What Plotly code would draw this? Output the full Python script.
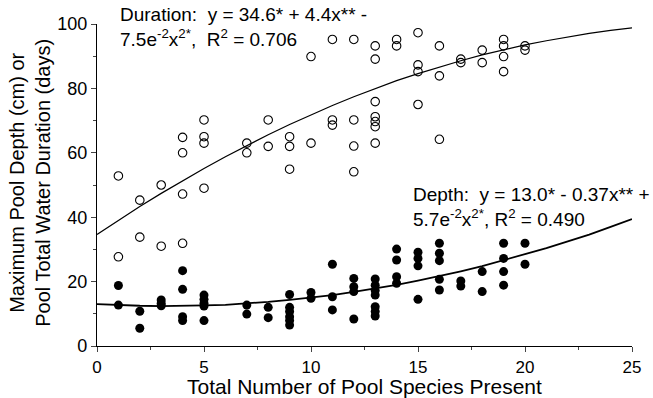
import plotly.graph_objects as go

# Duration (open circles)
dur_x = [1, 1, 2, 2, 3, 3, 4, 4, 4, 4, 5, 5, 5, 5, 7, 7, 8, 8, 9, 9, 9, 10, 10,
         11, 11, 11, 12, 12, 12, 12, 13, 13, 13, 13, 13, 13, 13, 14, 14,
         15, 15, 15, 15, 16, 16, 16, 17, 17, 18, 18, 19, 19, 19, 19, 20, 20]
dur_y = [52.8, 27.7, 45.3, 33.8, 50, 31, 64.8, 60, 47.2, 31.9, 70.2, 65, 63, 49,
         63, 60, 70.2, 62, 65, 62, 54.9, 89.9, 63,
         95.2, 70.2, 68.6, 95.2, 70.2, 62.1, 54.1,
         93.2, 89.1, 75.9, 71.2, 69.7, 68.1, 63, 95.2, 93.2,
         97.3, 87.3, 85.2, 75, 93.2, 83.9, 64.2, 89.1, 88, 91.9, 88,
         95.2, 93.2, 89.9, 85.2, 93.2, 91.9]

# Depth (filled circles)
dep_x = [1, 1, 2, 2, 3, 3, 3, 4, 4, 4, 4, 5, 5, 5, 5, 5, 7, 7, 8, 8,
         9, 9, 9, 9, 9, 9, 10, 10, 11, 11, 11, 12, 12, 12, 12,
         13, 13, 13, 13, 13, 13, 13, 14, 14, 14, 14, 15, 15, 15, 15,
         16, 16, 16, 16, 16, 17, 17, 18, 18, 19, 19, 19, 19, 20, 20]
dep_y = [18.8, 12.7, 10.8, 5.5, 14.3, 13.3, 12.5, 23.4, 17.6, 9.1, 7.9,
         15.8, 14.5, 13.3, 12.4, 7.9, 12.7, 9.9, 12, 8.8,
         16, 12, 10.7, 9.1, 7.9, 6.5, 16.6, 14.8, 25.4, 15.3, 11.2,
         21, 18.4, 16.9, 8.4,
         20.8, 18.9, 17.2, 15.8, 12.2, 10.7, 9.3, 30.1, 26.7, 21.5, 19.5,
         29.1, 27.2, 24.9, 14.5,
         31.9, 28.8, 26.5, 20.7, 17.4, 20.2, 18.6, 23.1, 16.9,
         31.9, 27.2, 23.1, 18.9, 31.9, 25.4]

# Fitted curves
fit_x = list(range(0, 26))
dur_fit = [34.6, 39.0, 43.3, 47.4, 51.3, 55.1, 58.8, 62.3, 65.6, 68.8, 71.8,
           74.7, 77.4, 80.0, 82.4, 84.6, 86.7, 88.6, 90.4, 92.0, 93.5,
           94.8, 96.0, 97.1, 98.0, 98.8]
dep_fit = [13.0, 12.7, 12.5, 12.4, 12.4, 12.6, 12.8, 13.2, 13.7, 14.3, 15.0,
           15.8, 16.8, 17.8, 19.0, 20.3, 21.7, 23.2, 24.8, 26.6, 28.4,
           30.4, 32.5, 34.6, 37.0, 39.4]

x_ticks = [0, 5, 10, 15, 20, 25]
y_ticks = [0, 20, 40, 60, 80, 100]

FONT = "Liberation Sans, Arial, sans-serif"

fig = go.Figure()
fig.add_trace(go.Scatter(x=fit_x, y=dur_fit, mode="lines",
                         line=dict(color="black", width=1.2), cliponaxis=False))
fig.add_trace(go.Scatter(x=fit_x, y=dep_fit, mode="lines",
                         line=dict(color="black", width=1.8), cliponaxis=False))
fig.add_trace(go.Scatter(x=dur_x, y=dur_y, mode="markers", cliponaxis=False,
                         marker=dict(symbol="circle-open", size=8.5, color="black",
                                     line=dict(width=1.1, color="black"))))
fig.add_trace(go.Scatter(x=dep_x, y=dep_y, mode="markers", cliponaxis=False,
                         marker=dict(symbol="circle", size=9, color="black")))

fig.update_layout(
    width=653, height=398,
    margin=dict(l=97, r=13, t=24, b=52),
    paper_bgcolor="white", plot_bgcolor="white",
    showlegend=False,
    font=dict(family=FONT, size=18, color="black"),
    xaxis=dict(range=[0, 25], tickvals=x_ticks, ticks="outside", ticklen=5,
               tickwidth=1.2, showline=True, linecolor="black", linewidth=1.2,
               showgrid=False, zeroline=False, tickfont=dict(size=17),
               minor=dict(dtick=2.5, tick0=0, ticks="outside", ticklen=3,
                          tickwidth=1.2, showgrid=False)),
    yaxis=dict(range=[0, 100], tickvals=y_ticks, ticks="outside", ticklen=5,
               tickwidth=1.2, showline=True, linecolor="black", linewidth=1.2,
               showgrid=False, zeroline=False, tickfont=dict(size=18),
               minor=dict(dtick=10, tick0=0, ticks="outside", ticklen=3,
                          tickwidth=1.2, showgrid=False)),
)

ann = [
    (0.0387, 1.028, "Duration:  y = 34.6* + 4.4x** -"),
    (0.0387, 0.9565, "7.5e<sup>-2</sup>x<sup>2*</sup>,  R<sup>2</sup> = 0.706"),
]
for ax_, ay_, txt in ann:
    fig.add_annotation(xref="paper", yref="paper", x=ax_, y=ay_,
                       xanchor="left", yanchor="middle", align="left",
                       showarrow=False, font=dict(size=19), text=txt)

fig.add_annotation(xref="paper", yref="paper", x=0.5875, y=0.4317,
                   xanchor="left", yanchor="middle", align="left",
                   showarrow=False, font=dict(size=19),
                   text="Depth:  y = 13.0* - 0.37x** +<br>"
                        "5.7e<sup>-2</sup>x<sup>2*</sup>, R<sup>2</sup> = 0.490")

fig.add_annotation(xref="paper", yref="paper", x=-0.1243, y=0.5085,
                   xanchor="center", yanchor="middle", showarrow=False,
                   textangle=-90, font=dict(size=20),
                   text="Maximum Pool Depth (cm) or<br>Pool Total Water Duration (days)")
fig.add_annotation(xref="paper", yref="paper", x=0.5, y=-0.127,
                   xanchor="center", yanchor="middle", showarrow=False,
                   font=dict(size=21),
                   text="Total Number of Pool Species Present")

fig.write_html("out.html")
